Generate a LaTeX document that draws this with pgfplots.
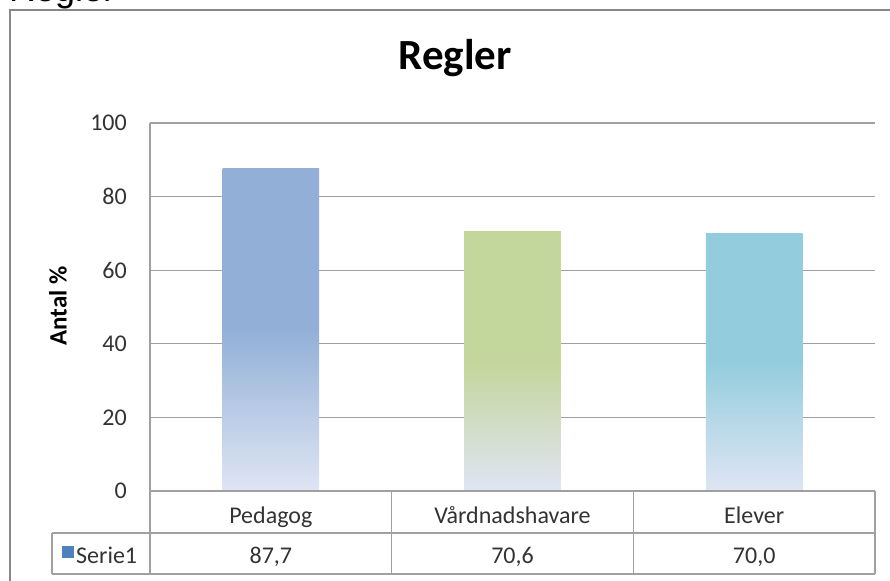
\documentclass[border=0pt]{standalone}
\usepackage{pgfplots}
\pgfplotsset{compat=1.18}
\usepackage{fontspec}
\setmainfont{Carlito}
\newfontfamily\arialfont{Liberation Sans}

\definecolor{barblue}{HTML}{92B0D7}
\definecolor{bargreen}{HTML}{C3D69B}
\definecolor{barcyan}{HTML}{93CDDD}
\definecolor{barlight}{HTML}{DFE5F4}
\definecolor{gridgray}{HTML}{A0A0A0}
\definecolor{framegray}{HTML}{888888}
\definecolor{keyblue}{HTML}{4F81BD}
\definecolor{txtgray}{HTML}{333333}

\begin{document}
\begin{tikzpicture}
\useasboundingbox (0pt,0pt) rectangle (890pt,-580pt);
\clip (0pt,0pt) rectangle (890pt,-580pt);

% cut-off heading above the chart
\node[anchor=base west, inner sep=0pt, font=\arialfont\fontsize{36}{40}\selectfont] at (9pt,-2pt) {Regler};

% chart frame
\draw[framegray, line width=2pt] (10pt,-600pt) -- (10pt,-10pt) -- (900pt,-10pt);

\begin{axis}[
    anchor=south west,
    at={(150pt,-491pt)},
    width=725pt, height=368pt,
    scale only axis,
    clip=false,
    xmin=-0.5, xmax=2.5,
    ymin=0, ymax=100,
    ytick={0,20,40,60,80,100},
    xtick={0,1,2},
    xticklabels={Pedagog, Vårdnadshavare, Elever},
    axis line style={draw=none},
    tick style={draw=none},
    ymajorgrids=true,
    major grid style={color=gridgray, line width=1.2pt},
    /pgf/number format/assume math mode=true,
    yticklabel style={font=\fontsize{24}{28}\selectfont, text=txtgray, anchor=east, inner sep=0pt, xshift=-23pt},
    xticklabel style={font=\fontsize{24}{28}\selectfont, text=txtgray, anchor=base, inner sep=0pt, yshift=-32pt},
    ylabel={Antal \%},
    ylabel style={font=\bfseries\fontsize{25}{30}\selectfont, at={(axis description cs:-0.127,0.503)}, anchor=center},
    title={Regler},
    title style={font=\bfseries\fontsize{43}{50}\selectfont, at={(axis description cs:0.421,1.1304)}, anchor=base},
]

\addplot[ybar, bar width=0.4, bar shift=0pt, draw=none,
    top color=barblue, bottom color=barlight, middle color=barblue]
    coordinates {(0, 87.7)};
\addplot[ybar, bar width=0.4, bar shift=0pt, draw=none,
    top color=bargreen, bottom color=barlight, middle color=bargreen]
    coordinates {(1, 70.6)};
\addplot[ybar, bar width=0.4, bar shift=0pt, draw=none,
    top color=barcyan, bottom color=barlight, middle color=barcyan]
    coordinates {(2, 70.0)};

% values row of the data table
\node[anchor=base, text=txtgray, font=\fontsize{24}{28}\selectfont] at ([yshift=-72pt]axis cs:0,0) {87,7};
\node[anchor=base, text=txtgray, font=\fontsize{24}{28}\selectfont] at ([yshift=-72pt]axis cs:1,0) {70,6};
\node[anchor=base, text=txtgray, font=\fontsize{24}{28}\selectfont] at ([yshift=-72pt]axis cs:2,0) {70,0};
\end{axis}

% y axis line and data table grid
\draw[gridgray, line width=1.2pt] (150pt,-123pt) -- (150pt,-574pt);
\draw[gridgray, line width=1.2pt] (150pt,-491pt) -- (875pt,-491pt);
\draw[gridgray, line width=1.2pt] (52pt,-533pt) -- (875pt,-533pt);
\draw[gridgray, line width=1.2pt] (52pt,-574pt) -- (875pt,-574pt);
\draw[gridgray, line width=1.2pt] (52pt,-533pt) -- (52pt,-574pt);
\draw[gridgray, line width=1.2pt] (391.67pt,-491pt) -- (391.67pt,-574pt);
\draw[gridgray, line width=1.2pt] (633.33pt,-491pt) -- (633.33pt,-574pt);
\draw[gridgray, line width=1.2pt] (875pt,-491pt) -- (875pt,-574pt);

% legend key in the table
\fill[keyblue] (62pt,-546pt) rectangle (74pt,-558pt);
\node[anchor=base west, inner sep=0pt, text=txtgray, font=\fontsize{24}{28}\selectfont] at (76pt,-563pt) {Serie1};

\end{tikzpicture}
\end{document}
